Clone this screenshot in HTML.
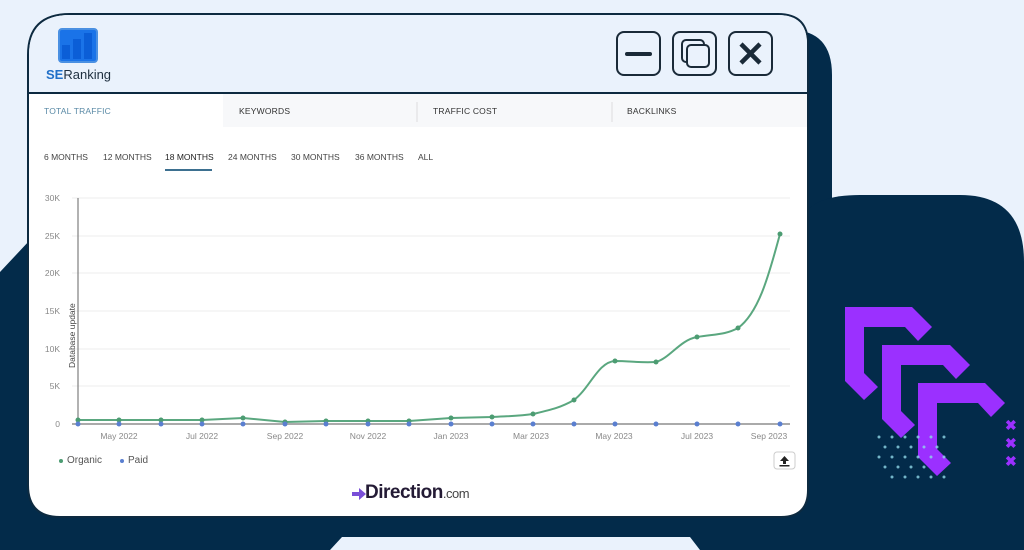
<!DOCTYPE html>
<html><head><meta charset="utf-8"><style>
body{margin:0;width:1024px;height:550px;overflow:hidden;background:#eaf2fc;font-family:"Liberation Sans",sans-serif;position:relative}
.abs{position:absolute}
.tab{position:absolute;top:106px;font-size:8.5px;color:#333;letter-spacing:.2px}
.per{position:absolute;top:152px;font-size:8.5px;color:#444}
.yl{position:absolute;left:30px;width:30px;text-align:right;font-size:8.5px;color:#888}
.xl{position:absolute;top:431px;font-size:8.5px;color:#888;transform:translateX(-50%)}
</style></head><body>
<svg class="abs" style="left:0;top:0" width="1024" height="550">
<path d="M0 272 L30 240 L30 550 L0 550Z" fill="#032b4a"/>
<path d="M700 30 L790 30 Q832 30 832 75 L832 550 L0 550 L0 500 L700 500Z" fill="#032b4a"/>
<path d="M805 215 Q815 195 860 195 L960 195 Q1024 195 1024 262 L1024 550 L805 550Z" fill="#032b4a"/>
<path d="M342 537 L690 537 L700 550 L330 550Z" fill="#eaf2fc"/>
<g fill="#9b30ff">
<path d="M845 307 L912 307 L932 327 L918 341 L905 327 L864 327 L864 373 L878 387 L864 400 L845 381Z"/>
<path d="M882 345 L950 345 L970 365 L956 379 L943 365 L901 365 L901 411 L915 425 L901 438 L882 419Z"/>
<path d="M918 383 L985 383 L1005 403 L991 417 L978 403 L937 403 L937 449 L951 463 L937 476 L918 457Z"/>
</g>
<g fill="#9b30ff" font-size="14" font-weight="bold" font-family="Liberation Sans"><text x="1005" y="430">✖</text><text x="1005" y="448">✖</text><text x="1005" y="466">✖</text></g>
<g fill="#8fd8e8" opacity=".8">
<circle cx="879" cy="437" r="1.5"/><circle cx="892" cy="437" r="1.5"/><circle cx="905" cy="437" r="1.5"/><circle cx="918" cy="437" r="1.5"/><circle cx="931" cy="437" r="1.5"/><circle cx="944" cy="437" r="1.5"/>
<circle cx="885" cy="447" r="1.5"/><circle cx="898" cy="447" r="1.5"/><circle cx="911" cy="447" r="1.5"/><circle cx="924" cy="447" r="1.5"/><circle cx="937" cy="447" r="1.5"/>
<circle cx="879" cy="457" r="1.5"/><circle cx="892" cy="457" r="1.5"/><circle cx="905" cy="457" r="1.5"/><circle cx="918" cy="457" r="1.5"/><circle cx="931" cy="457" r="1.5"/><circle cx="944" cy="457" r="1.5"/>
<circle cx="885" cy="467" r="1.5"/><circle cx="898" cy="467" r="1.5"/><circle cx="911" cy="467" r="1.5"/><circle cx="924" cy="467" r="1.5"/>
<circle cx="892" cy="477" r="1.5"/><circle cx="905" cy="477" r="1.5"/><circle cx="918" cy="477" r="1.5"/><circle cx="931" cy="477" r="1.5"/><circle cx="944" cy="477" r="1.5"/>
</g>
<path d="M28 55 Q28 14 70 14 L778 14 Q808 14 808 44 L808 490 Q808 517 781 517 L60 517 Q28 517 28 485Z" fill="#fff" stroke="#0d2a40" stroke-width="2"/>
<path d="M29 93 L29 55 Q29 15 70 15 L778 15 Q807 15 807 44 L807 93Z" fill="#eaf2fc"/>
<line x1="28" y1="93" x2="808" y2="93" stroke="#0d2a40" stroke-width="2"/>
<rect x="29" y="94" width="778" height="33" fill="#f7f8fa"/>
<rect x="29" y="94" width="194" height="33" fill="#fff"/>
<line x1="417" y1="102" x2="417" y2="122" stroke="#ddd"/><line x1="612" y1="102" x2="612" y2="122" stroke="#ddd"/>
<rect x="59" y="29" width="38" height="33" rx="3" fill="#1a73e8" stroke="#4a90e2" stroke-width="2"/>
<rect x="62" y="45" width="8" height="14" fill="#0b5ed7"/><rect x="73" y="39" width="8" height="20" fill="#0b5ed7"/><rect x="84" y="33" width="8" height="26" fill="#0b5ed7"/>
<g fill="none" stroke="#1a2a38" stroke-width="2"><rect x="617" y="32" width="43" height="43" rx="7"/><rect x="673" y="32" width="43" height="43" rx="7"/><rect x="729" y="32" width="43" height="43" rx="7"/></g>
<line x1="627" y1="54" x2="650" y2="54" stroke="#1a2a38" stroke-width="4" stroke-linecap="round"/>
<rect x="682" y="40" width="22" height="22" rx="4" fill="none" stroke="#1a2a38" stroke-width="2"/><rect x="687" y="45" width="22" height="22" rx="4" fill="#eaf2fc" stroke="#1a2a38" stroke-width="2"/>
<path d="M741 44 L760 63 M760 44 L741 63" stroke="#1a2a38" stroke-width="4.5"/>
<line x1="165" y1="170" x2="212" y2="170" stroke="#3d7090" stroke-width="2"/>
<g stroke="#eee"><line x1="72" y1="198" x2="790" y2="198"/><line x1="72" y1="236" x2="790" y2="236"/><line x1="72" y1="273" x2="790" y2="273"/><line x1="72" y1="311" x2="790" y2="311"/><line x1="72" y1="349" x2="790" y2="349"/><line x1="72" y1="386" x2="790" y2="386"/></g>
<line x1="78" y1="198" x2="78" y2="424" stroke="#666"/>
<line x1="72" y1="424" x2="790" y2="424" stroke="#555"/>
<path d="M78 420 L119 420 L161 420 L202 420 L243 418 L285 422 L326 421 L368 421 L409 421 L451 418 L492 417 C510 416 520 416 533 414 C550 410 560 408 574 400 C590 388 598 362 615 361 C630 361 640 363 656 362 C670 358 680 340 697 337 C715 334 725 335 738 328 C760 312 770 270 780 234" fill="none" stroke="#5aa77f" stroke-width="2"/>
<g fill="#4c9c72"><circle cx="78" cy="420" r="2.5"/><circle cx="119" cy="420" r="2.5"/><circle cx="161" cy="420" r="2.5"/><circle cx="202" cy="420" r="2.5"/><circle cx="243" cy="418" r="2.5"/><circle cx="285" cy="422" r="2.5"/><circle cx="326" cy="421" r="2.5"/><circle cx="368" cy="421" r="2.5"/><circle cx="409" cy="421" r="2.5"/><circle cx="451" cy="418" r="2.5"/><circle cx="492" cy="417" r="2.5"/><circle cx="533" cy="414" r="2.5"/><circle cx="574" cy="400" r="2.5"/><circle cx="615" cy="361" r="2.5"/><circle cx="656" cy="362" r="2.5"/><circle cx="697" cy="337" r="2.5"/><circle cx="738" cy="328" r="2.5"/><circle cx="780" cy="234" r="2.5"/></g>
<g fill="#5a7fd0"><circle cx="78" cy="424" r="2.5"/><circle cx="119" cy="424" r="2.5"/><circle cx="161" cy="424" r="2.5"/><circle cx="202" cy="424" r="2.5"/><circle cx="243" cy="424" r="2.5"/><circle cx="285" cy="424" r="2.5"/><circle cx="326" cy="424" r="2.5"/><circle cx="368" cy="424" r="2.5"/><circle cx="409" cy="424" r="2.5"/><circle cx="451" cy="424" r="2.5"/><circle cx="492" cy="424" r="2.5"/><circle cx="533" cy="424" r="2.5"/><circle cx="574" cy="424" r="2.5"/><circle cx="615" cy="424" r="2.5"/><circle cx="656" cy="424" r="2.5"/><circle cx="697" cy="424" r="2.5"/><circle cx="738" cy="424" r="2.5"/><circle cx="780" cy="424" r="2.5"/></g>
<text transform="translate(75,368) rotate(-90)" font-size="8.5" fill="#444" font-family="Liberation Sans">Database update</text>
<circle cx="61" cy="461" r="2" fill="#4c9c72"/><circle cx="122" cy="461" r="2" fill="#5a7fd0"/>
<rect x="774" y="452" width="21" height="17" rx="3" fill="#fff" stroke="#ccc"/>
<path d="M780 461 L784.5 456 L789 461Z M783 461 h3 v3 h-3Z M779.5 465 h10 v1.5 h-10Z" fill="#222"/>
<path d="M352 492 h7 v-4 l7 6 -7 6 v-4 h-7Z" fill="#7a4fd8"/>
</svg>
<div class="abs" style="left:46px;top:67px;font-size:13px;color:#1e2f3f"><b style="color:#2070c8;font-weight:600">SE</b>Ranking</div>
<div class="tab" style="left:44px;color:#5a8aa6">TOTAL TRAFFIC</div>
<div class="tab" style="left:239px">KEYWORDS</div>
<div class="tab" style="left:433px">TRAFFIC COST</div>
<div class="tab" style="left:627px">BACKLINKS</div>
<div class="per" style="left:44px">6 MONTHS</div><div class="per" style="left:103px">12 MONTHS</div><div class="per" style="left:165px;color:#222">18 MONTHS</div><div class="per" style="left:228px">24 MONTHS</div><div class="per" style="left:291px">30 MONTHS</div><div class="per" style="left:355px">36 MONTHS</div><div class="per" style="left:418px">ALL</div>
<div class="yl" style="top:193px">30K</div><div class="yl" style="top:231px">25K</div><div class="yl" style="top:268px">20K</div><div class="yl" style="top:306px">15K</div><div class="yl" style="top:344px">10K</div><div class="yl" style="top:381px">5K</div><div class="yl" style="top:419px">0</div>
<div class="xl" style="left:119px">May 2022</div><div class="xl" style="left:202px">Jul 2022</div><div class="xl" style="left:285px">Sep 2022</div><div class="xl" style="left:368px">Nov 2022</div><div class="xl" style="left:451px">Jan 2023</div><div class="xl" style="left:531px">Mar 2023</div><div class="xl" style="left:614px">May 2023</div><div class="xl" style="left:697px">Jul 2023</div><div class="xl" style="left:769px">Sep 2023</div>
<div class="abs" style="left:67px;top:455px;font-size:10px;color:#555">Organic</div>
<div class="abs" style="left:128px;top:455px;font-size:10px;color:#555">Paid</div>
<div class="abs" style="left:365px;top:482px;font-size:19px;font-weight:bold;color:#241b35;letter-spacing:-.5px">Direction<span style="font-size:13px;font-weight:normal;color:#444">.com</span></div>
</body></html>
